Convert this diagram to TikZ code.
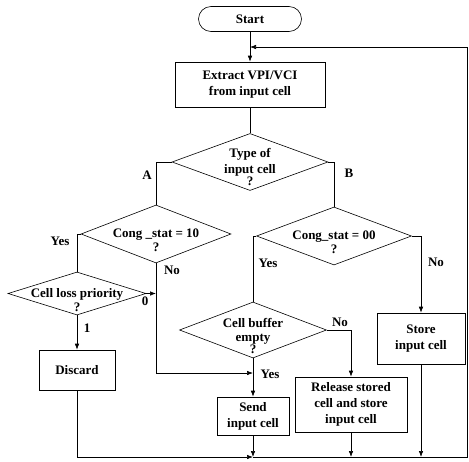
\documentclass[tikz,border=0pt]{standalone}
\usepackage{fontspec}
\setmainfont{Liberation Serif}
\usetikzlibrary{shapes.geometric,arrows.meta}
\begin{document}
\begin{tikzpicture}[x=1pt,y=-1pt,
  line width=0.6pt,
  every node/.style={font=\bfseries\fontsize{13}{16}\selectfont, inner sep=0pt},
  box/.style={draw, rectangle, align=center},
  term/.style={draw, rectangle, rounded corners=12.5pt},
  dia/.style={draw, diamond},
  txt/.style={align=center},
  lbl/.style={},
  arr/.style={-{Latex[length=6pt,width=4.5pt]}}
]
\useasboundingbox (0,0) rectangle (469,461);

% nodes
\node[term, minimum width=103pt, minimum height=25pt] (start) at (250,19) {Start};
\node[box, minimum width=150pt, minimum height=45pt] (extract) at (250,84.5) {Extract VPI/VCI\\from input cell};

\node[dia, minimum width=156pt, minimum height=57pt] (type) at (250,162) {};
\node[txt] (typet) at (250,167) {Type of\\input cell\\[-4pt]?};

\node[dia, minimum width=150pt, minimum height=58pt] (c10) at (156,234) {};
\node[txt] (c10t) at (156,240) {Cong \_stat = 10\\[-2pt]?};

\node[dia, minimum width=155pt, minimum height=58pt] (c00) at (334,236) {};
\node[txt] (c00t) at (334,242) {Cong\_stat = 00\\[-2pt]?};

\node[dia, minimum width=138pt, minimum height=43pt] (clp) at (77,293.5) {};
\node[txt] (clpt) at (77,300) {Cell loss priority\\[-2pt]?};

\node[dia, minimum width=147pt, minimum height=56pt] (cb) at (253,330) {};
\node[txt] (cbt) at (253,336) {Cell buffer\\[-2pt]empty\\[-4pt]?};

\node[box, minimum width=76pt, minimum height=40pt] (discard) at (77,370) {Discard};
\node[box, minimum width=72pt, minimum height=38pt] (send) at (253,416) {Send\\input cell};
\node[box, minimum width=112pt, minimum height=55pt] (release) at (351,404.5) {Release stored\\cell and store\\input cell};
\node[box, minimum width=88pt, minimum height=51pt] (store) at (421,338.5) {Store\\input cell};

% coordinates
\coordinate (top) at (250,47);
\coordinate (nojoin) at (156,293.5);
\coordinate (yesj) at (253,373);
\coordinate (noc) at (156,373);
\coordinate (bl) at (77,457);
\coordinate (bsend) at (253,457);
\coordinate (brel) at (351,457);
\coordinate (bstore) at (421,457);
\coordinate (br) at (467,457);
\coordinate (tr) at (467,47);

% connectors
\draw[arr] (start.south) -- (extract.north);
\draw (extract.south) -- (type.north);
\draw (type.west) -| (c10.north);
\draw (type.east) -| (c00.north);
\draw (c10.west) -| (clp.north);
\draw (c10.south) -- (noc);
\draw[arr] (noc) -- (yesj);
\draw[arr] (clp.east) -- (nojoin);
\draw[arr] (clp.south) -- (discard.north);
\draw (discard.south) -- (bl);
\draw[arr] (bl) -- (bsend);
\draw (c00.west) -| (cb.north);
\draw[arr] (c00.east) -| (store.north);
\draw[arr] (cb.east) -| (release.north);
\draw[arr] (cb.south) -- (send.north);
\draw[arr] (send.south) -- (bsend);
\draw[arr] (release.south) -- (brel);
\draw[arr] (store.south) -- (bstore);
\draw[arr] (bsend) -- (br) -- (tr) -- (top);

% labels
\node[lbl] (la) at (147,175) {A};
\node[lbl] (lb) at (349,173) {B};
\node[lbl] (ly1) at (60,241) {Yes};
\node[lbl] (ln1) at (172,270) {No};
\node[lbl] (ly2) at (268,263) {Yes};
\node[lbl] (ln2) at (436,262) {No};
\node[lbl] (l0) at (145,301) {0};
\node[lbl] (l1) at (87,328) {1};
\node[lbl] (ln3) at (340,322) {No};
\node[lbl] (ly3) at (270,374) {Yes};
\end{tikzpicture}
\end{document}
